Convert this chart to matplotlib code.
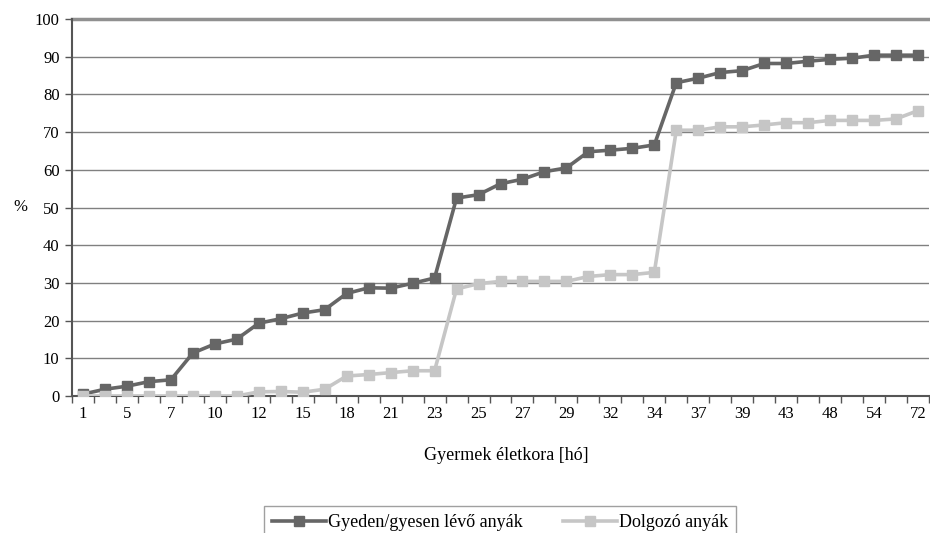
import matplotlib
matplotlib.use("Agg")
import matplotlib.pyplot as plt
import numpy as np

plt.rcParams['font.family'] = ['Liberation Serif', 'DejaVu Serif']

# Category labels (only every other one is shown in the reference)
months = ["1", "3", "5", "6", "7", "8", "10", "11", "12", "13", "15", "16", "18", "19",
          "21", "22", "23", "24", "25", "26", "27", "28", "29", "30", "32", "33", "34",
          "36", "37", "38", "39", "42", "43", "46", "48", "50", "54", "60", "72"]

gyed = [0.5, 1.8, 2.6, 3.8, 4.3, 11.4, 13.8, 15.1, 19.3, 20.5, 22.0, 22.9, 27.2, 28.7,
        28.6, 29.9, 31.3, 52.5, 53.4, 56.3, 57.5, 59.5, 60.5, 64.8, 65.2, 65.7, 66.6,
        83.1, 84.3, 85.8, 86.3, 88.2, 88.2, 88.8, 89.3, 89.6, 90.4, 90.4, 90.4]

dolgozo = [0.0, 0.0, 0.0, 0.0, 0.0, 0.0, 0.0, 0.0, 1.1, 1.2, 1.0, 1.8, 5.3, 5.7,
           6.2, 6.7, 6.7, 28.4, 29.8, 30.4, 30.4, 30.4, 30.4, 31.7, 32.2, 32.2, 32.8,
           70.5, 70.5, 71.4, 71.4, 71.9, 72.5, 72.5, 73.1, 73.1, 73.1, 73.5, 75.7]

series_names = ["Gyeden/gyesen lévő anyák", "Dolgozó anyák"]
colors = ["#666666", "#c6c6c6"]

fig = plt.figure(figsize=(9.30, 5.33), dpi=100)
ax = fig.add_axes([72/930, 1-396/533, (929-72)/930, (396-19)/533])

x = np.arange(len(months))
ax.plot(x, gyed, color=colors[0], lw=2.6, marker='s', ms=7, label=series_names[0], zorder=3)
ax.plot(x, dolgozo, color=colors[1], lw=2.6, marker='s', ms=7, label=series_names[1], zorder=4)

ax.set_xlim(-0.5, len(months) - 0.5)
ax.set_ylim(0, 100)
ax.set_yticks(np.arange(0, 101, 10))
ax.tick_params(axis='y', labelsize=12, length=5, width=1, color='#555555', pad=4)
ax.yaxis.grid(True, color='#808080', lw=1)
ax.set_axisbelow(True)

ax.set_xticks(x[::2])
ax.set_xticklabels(months[::2], fontsize=12)
ax.set_xticks(np.arange(-0.5, len(months), 1), minor=True)
ax.tick_params(axis='x', which='major', length=0, pad=7)
ax.tick_params(axis='x', which='minor', length=5, width=1, color='#555555')

for s in ['top', 'right']:
    ax.spines[s].set_visible(False)
for s in ['left', 'bottom']:
    ax.spines[s].set_color('#555555')
    ax.spines[s].set_linewidth(1.5)
ax.axhline(100, color='#909090', lw=2.5, zorder=2, clip_on=False)

fig.text(20/930, 1-207/533, "%", fontsize=12, ha='center', va='center')
fig.text(506/930, 1-455/533, "Gyermek életkora [hó]", fontsize=13, ha='center', va='center')

leg = fig.legend(loc='upper center', bbox_to_anchor=(500/930, 1-497/533), ncol=2,
                 fontsize=13, frameon=True, fancybox=False, edgecolor='#888888',
                 handlelength=3.0, columnspacing=2.2, borderpad=0.45, handletextpad=0.1)
leg.get_frame().set_linewidth(1)

fig.savefig("out.png", dpi=100)
